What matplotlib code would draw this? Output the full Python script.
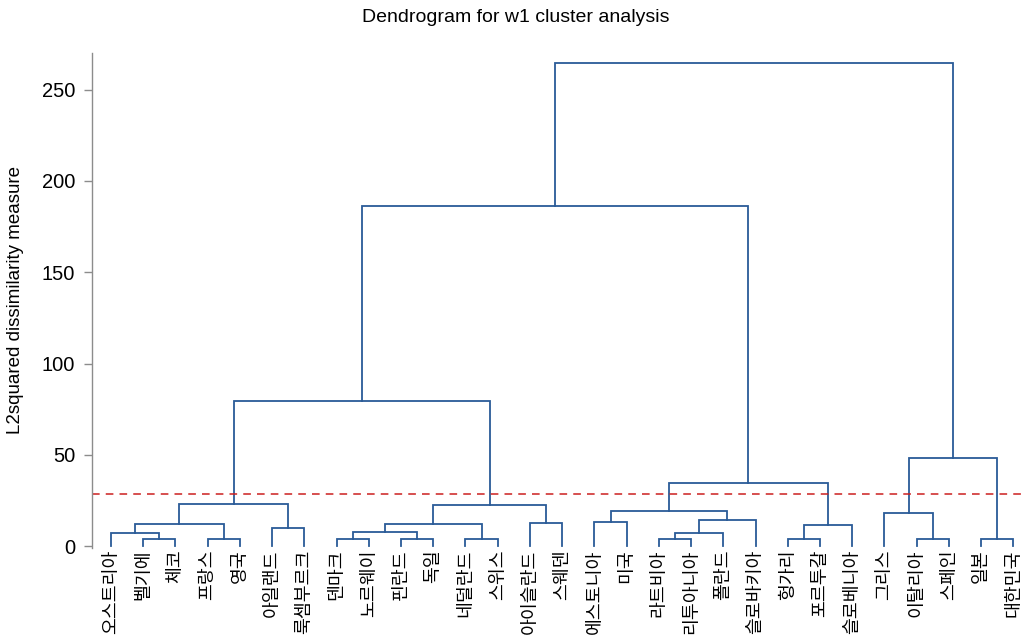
import matplotlib
matplotlib.use('Agg')
import matplotlib.pyplot as plt

# leaves, in dendrogram order
countries = ['오스트리아', '벨기에', '체코', '프랑스', '영국', '아일랜드', '룩셈부르크',
             '덴마크', '노르웨이', '핀란드', '독일', '네덜란드', '스위스', '아이슬란드',
             '스웨덴', '에스토니아', '미국', '라트비아', '리투아니아', '폴란드', '슬로바키아',
             '헝가리', '포르투갈', '슬로베니아', '그리스', '이탈리아', '스페인', '일본', '대한민국']

# linkage: ids >= len(countries) point to earlier merges
merge_left = [1, 0, 3, 30, 5, 32, 7, 9, 35, 11, 37, 13, 39, 15, 17, 43, 44, 42,
              21, 47, 46, 25, 24, 27, 51, 34, 54, 55]
merge_right = [2, 29, 4, 31, 6, 33, 8, 10, 36, 12, 38, 14, 40, 16, 18, 19, 20, 45,
               22, 23, 48, 26, 50, 28, 52, 41, 49, 53]
merge_height = [3.7, 7.3, 3.7, 11.9, 9.7, 23.0, 3.7, 3.7, 7.7, 3.7, 11.9, 12.8, 22.8, 13.0,
                3.8, 7.3, 14.6, 19.3, 3.8, 11.5, 34.8, 3.8, 17.9, 3.8, 48.3, 79.5, 186.2, 264.4]

cut_height = 28.8

link_color = '#2a5b97'

fig = plt.figure(figsize=(10.25, 6.4), dpi=100)
ax = fig.add_axes([92 / 1025, 92 / 640, 1 - 92 / 1025, 495 / 640])

n = len(countries)
xpos = {i: float(i) for i in range(n)}
ypos = {i: 0.0 for i in range(n)}
for k, (a, b, h) in enumerate(zip(merge_left, merge_right, merge_height)):
    ax.plot([xpos[a], xpos[a], xpos[b], xpos[b]], [ypos[a], h, h, ypos[b]],
            color=link_color, lw=1.3, solid_joinstyle='miter')
    xpos[n + k] = (xpos[a] + xpos[b]) / 2
    ypos[n + k] = h

ax.axhline(cut_height, color='#cc1f1f', lw=1.1, ls=(0, (5, 4)))

ax.set_xlim(-0.587, 28.36)
ax.set_ylim(-1, 270)

ax.set_xticks(range(n))
ax.set_xticklabels(countries, rotation=90, fontsize=13.2, family=['Noto Sans CJK KR', 'DejaVu Sans'])
ax.tick_params(axis='x', length=0, pad=1)

ax.set_yticks([0, 50, 100, 150, 200, 250])
ax.tick_params(axis='y', length=6, width=1, color='#8c8c8c', labelsize=14.5, pad=6)
for t in ax.get_yticklabels():
    t.set_family('Liberation Sans')

for s in ['top', 'right', 'bottom']:
    ax.spines[s].set_visible(False)
ax.spines['left'].set_color('#8c8c8c')
ax.spines['left'].set_linewidth(1)

fig.text(16 / 1025, 1 - 300 / 640, 'L2squared dissimilarity measure', rotation=90,
         ha='center', va='center', fontsize=13.5, family='Liberation Sans')
fig.text(0.503, 1 - 17 / 640, 'Dendrogram for w1 cluster analysis',
         ha='center', va='center', fontsize=14, family='Liberation Sans')

fig.savefig('out.png', dpi=100)
